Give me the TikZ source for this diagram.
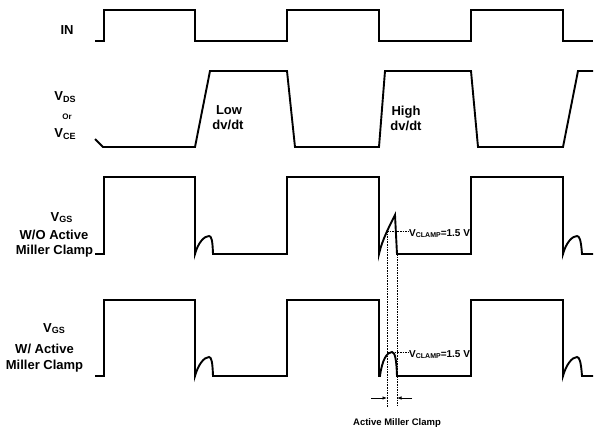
\documentclass[tikz,border=0pt]{standalone}
\usepackage{fontspec}
\setmainfont{Liberation Sans}
\usetikzlibrary{arrows.meta}
\newcommand{\sbx}[2][9]{\raisebox{-1.5pt}{\fontsize{#1}{#1}\selectfont #2}}
\begin{document}
\begin{tikzpicture}[x=1pt,y=-1pt,
  wave/.style={line width=1.9pt, line join=miter},
  guide/.style={line width=0.6pt, dash pattern=on 1.6pt off 1pt},
  dimarrow/.style={line width=0.7pt, -{Latex[length=4.5pt,width=3.5pt]}},
  lbl/.style={font=\bfseries\fontsize{13}{15}\selectfont, inner sep=0pt, anchor=base},
  small/.style={font=\bfseries\fontsize{8}{9}\selectfont, inner sep=0pt, anchor=base},
  clamp/.style={font=\bfseries\fontsize{10}{12}\selectfont, inner sep=0pt, anchor=base west},
  note/.style={font=\bfseries\fontsize{9.5}{11}\selectfont, inner sep=0pt, anchor=base}]
\useasboundingbox (0,0) rectangle (595,429);

% IN
\draw[wave] (95,41) -- (104,41) -- (104,10) -- (195,10) -- (195,41) -- (287,41) -- (287,10)
  -- (379,10) -- (379,41) -- (471,41) -- (471,10) -- (563,10) -- (563,41) -- (593,41);

% VDS / VCE
\draw[wave] (95,139) -- (103,147) -- (195,147) -- (210,71) -- (287,71) -- (295,147) -- (379,147)
  -- (385,71) -- (471,71) -- (478,147) -- (563,147) -- (578,71) -- (593,71);

% VGS without active Miller clamp
\draw[wave] (95,254) -- (104,254) -- (104,177) -- (195,177) -- (195,254)
  .. controls (198,243) and (204,236) .. (209,236) .. controls (211.5,236) and (212.5,240) .. (213,254)
  -- (287,254) -- (287,177) -- (379,177) -- (379,254)
  .. controls (382,240) and (390,225) .. (395,215) -- (397,254)
  -- (471,254) -- (471,177) -- (563,177) -- (563,254)
  .. controls (566,243) and (572,236) .. (577,236) .. controls (579.5,236) and (581,240) .. (582,254)
  -- (593,254);

% VGS with active Miller clamp
\draw[wave] (95,376) -- (104,376) -- (104,300) -- (195,300) -- (195,376)
  .. controls (198,365) and (204,357) .. (209,357) .. controls (211.5,357) and (212.5,362) .. (213,376)
  -- (287,376) -- (287,300) -- (379,300) -- (379,376) -- (380,376)
  .. controls (382,360) and (387,352) .. (392,352) .. controls (395,352) and (396.5,360) .. (397,376)
  -- (471,376) -- (471,300) -- (563,300) -- (563,376)
  .. controls (566,365) and (572,357) .. (577,357) .. controls (579.5,357) and (581,362) .. (582,376)
  -- (593,376);

% clamp guides
\coordinate (g1t) at (387,231);
\coordinate (g1b) at (387,407);
\coordinate (g2t) at (397,254);
\coordinate (g2b) at (397,407);
\coordinate (h1) at (387,352);
\node[clamp] (vc1) at (409,236) {V\sbx[7]{CLAMP}=1.5 V};
\node[clamp] (vc2) at (409,357) {V\sbx[7]{CLAMP}=1.5 V};
\draw[guide] (g1t) -- (g1t -| vc1.west);
\draw[guide] (h1) -- (h1 -| vc2.west);
\draw[guide] (g1t) -- (g1b);
\draw[guide] (g2t) -- (g2b);

% dimension arrows
\coordinate (a1s) at (371,398);
\coordinate (a1e) at (387,398);
\coordinate (a2s) at (412,398);
\coordinate (a2e) at (397,398);
\draw[dimarrow] (a1s) -- (a1e);
\draw[dimarrow] (a2s) -- (a2e);
\node[note] (amc) at (397,425) {Active Miller Clamp};

% labels
\node[lbl] (lin) at (67,34.3) {IN};
\node[lbl] (lvds) at (65,100.5) {V\sbx{DS}};
\node[small] (lor) at (67,119.3) {Or};
\node[lbl] (lvce) at (65,137.7) {V\sbx{CE}};
\node[lbl] (llow) at (229,114) {Low};
\node[lbl] (ldv1) at (228,129.5) {dv/dt};
\node[lbl] (lhigh) at (406,115) {High};
\node[lbl] (ldv2) at (406,130) {dv/dt};

\node[lbl] (lvgs1) at (61.5,221) {V\sbx{GS}};
\node[lbl] (lwo1) at (54,239.3) {W/O Active};
\node[lbl] (lmc1) at (54.5,254) {Miller Clamp};

\node[lbl] (lvgs2) at (54,332.3) {V\sbx{GS}};
\node[lbl] (lwo2) at (44.5,353.3) {W/ Active};
\node[lbl] (lmc2) at (44.5,369.3) {Miller Clamp};
\end{tikzpicture}
\end{document}
